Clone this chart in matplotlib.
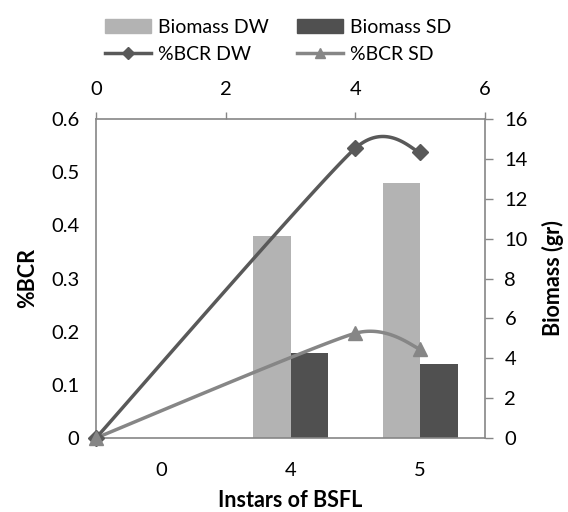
import numpy as np
import matplotlib
matplotlib.use("Agg")
import matplotlib.pyplot as plt
from matplotlib.lines import Line2D
from matplotlib.patches import Patch

# bars: biomass per instar (right axis)
categories = ["0", "4", "5"]
biomass_dw = [0, 10.13, 12.8]
biomass_sd = [0, 4.25, 3.7]

# lines: %BCR against the top axis (left axis)
instar = [0, 4, 5]
bcr_dw = [0, 0.545, 0.537]
bcr_sd = [0, 0.197, 0.167]

AX_COL = "#868686"
plt.rcParams["font.family"] = ["Lato", "DejaVu Sans"]
TICK_FS = 14.5
LABEL_FS = 15.5


def smooth(xs, ys, xmax=6, ymax=0.6, w=389, h=319, k=0.1, n=60):
    # Excel-like smoothed line: cubic bezier segments in screen-proportional units
    p = np.column_stack([np.asarray(xs) / xmax * w, np.asarray(ys) / ymax * h])
    pts = np.vstack([p[0], p, p[-1]])
    out = []
    t = np.linspace(0, 1, n)[:, None]
    for i in range(1, len(pts) - 2):
        p0, p1, p2, p3 = pts[i - 1:i + 3]
        c1 = p1 + (p2 - p0) * k
        c2 = p2 - (p3 - p1) * k
        out.append((1 - t) ** 3 * p1 + 3 * (1 - t) ** 2 * t * c1
                   + 3 * (1 - t) * t ** 2 * c2 + t ** 3 * p2)
    s = np.vstack(out)
    return s[:, 0] / w * xmax, s[:, 1] / h * ymax


fig = plt.figure(figsize=(5.68, 5.12), dpi=100)
rect = [96 / 568, 74 / 512, 389 / 568, 319 / 512]

# bar axes: bottom categories, right biomass scale
axb = fig.add_axes(rect)
pos = np.arange(len(categories))
bw = 0.29
axb.bar(pos - bw / 2, biomass_dw, bw, color="#b3b3b3", zorder=2)
axb.bar(pos + bw / 2, biomass_sd, bw, color="#505050", zorder=2)
axb.set_xlim(-0.5, 2.5)
axb.set_ylim(0, 16)
axb.set_xticks(pos)
axb.set_xticklabels(categories)
axb.yaxis.tick_right()
axb.yaxis.set_label_position("right")
axb.set_yticks(np.arange(0, 17, 2))
axb.tick_params(axis="x", length=0, pad=17, labelsize=TICK_FS)
axb.tick_params(axis="y", length=6, width=1, color=AX_COL, pad=8, labelsize=TICK_FS)
for side in ["top", "left"]:
    axb.spines[side].set_visible(False)
for side in ["bottom", "right"]:
    axb.spines[side].set_color(AX_COL)
    axb.spines[side].set_linewidth(1.2)
axb.set_xlabel("Instars of BSFL", fontsize=LABEL_FS, fontweight="bold", labelpad=8)
axb.set_ylabel("Biomass (gr)", fontsize=LABEL_FS, fontweight="bold", labelpad=10)

# line axes: top numeric x, left %BCR scale
axl = fig.add_axes(rect, frameon=False)
axl.patch.set_visible(False)
axl.set_xlim(0, 6)
axl.set_ylim(0, 0.6)
axl.xaxis.tick_top()
axl.set_xticks([0, 2, 4, 6])
axl.set_yticks(np.round(np.arange(0, 0.61, 0.1), 1))
axl.set_yticklabels(["0", "0.1", "0.2", "0.3", "0.4", "0.5", "0.6"])
axl.tick_params(axis="x", length=5, width=1, color=AX_COL, pad=10, labelsize=TICK_FS)
axl.tick_params(axis="y", length=0, pad=12, labelsize=TICK_FS)
axl.set_frame_on(True)
for side in ["bottom", "right"]:
    axl.spines[side].set_visible(False)
for side in ["top", "left"]:
    axl.spines[side].set_color(AX_COL)
    axl.spines[side].set_linewidth(1.2)
axl.set_ylabel("%BCR", fontsize=LABEL_FS, fontweight="bold", labelpad=9)

sx, sy = smooth(instar, bcr_dw)
axl.plot(sx, sy, color="#595959", lw=2.5, clip_on=False, zorder=3)
axl.plot(instar, bcr_dw, ls="none", marker="D", ms=8, color="#595959",
         clip_on=False, zorder=4)
sx, sy = smooth(instar, bcr_sd)
axl.plot(sx, sy, color="#868686", lw=2.5, clip_on=False, zorder=3)
axl.plot(instar, bcr_sd, ls="none", marker="^", ms=10, color="#868686",
         clip_on=False, zorder=4)

# column-wise fill: DW entries in column 1, SD entries in column 2
handles = [
    Patch(color="#b3b3b3", label="Biomass DW"),
    Line2D([], [], color="#595959", lw=2.5, marker="D", ms=6, label="%BCR DW"),
    Patch(color="#505050", label="Biomass SD"),
    Line2D([], [], color="#868686", lw=2.5, marker="^", ms=7, label="%BCR SD"),
]
fig.legend(handles=handles, ncol=2, loc="upper center", bbox_to_anchor=(0.49, 0.998),
           frameon=False, fontsize=14, handlelength=2.37, handleheight=0.75,
           columnspacing=1.44, handletextpad=0.36, labelspacing=0.55)

fig.savefig("out.png", dpi=100)
